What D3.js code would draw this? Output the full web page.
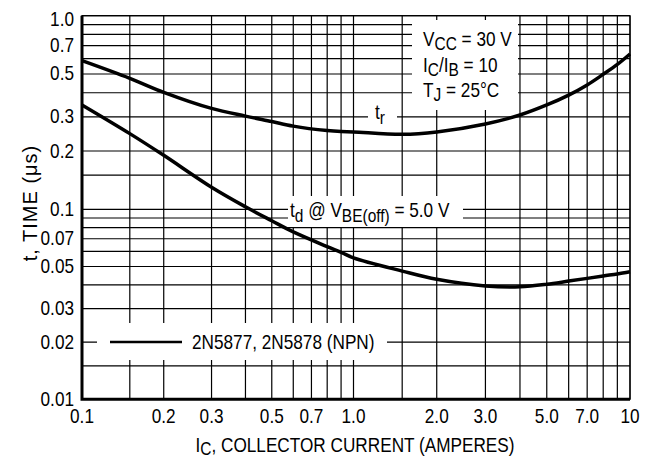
<!DOCTYPE html>
<html>
<head>
<meta charset="utf-8">
<script src="https://cdn.jsdelivr.net/npm/d3@7"></script>
<style>
  body { margin: 0; background: #fff; }
  text { font-family: "Liberation Sans", Arial, sans-serif; font-size: 20px; fill: #000; }
</style>
</head>
<body>
<div class="chart"></div>
<script>
/* collector current (A) where the curves were read */
const icValues = [0.1, 0.15, 0.2, 0.3, 0.4, 0.5, 0.6, 0.8, 0.9, 1.0, 1.5, 2, 3, 4, 5, 6, 7, 8, 9, 10];
/* rise time tr (us) */
const trValues = [0.586, 0.475, 0.402, 0.332, 0.303, 0.284, 0.269, 0.255, 0.252, 0.251, 0.244, 0.251, 0.276, 0.307, 0.346, 0.389, 0.439, 0.498, 0.56, 0.634];
/* delay time td (us) */
const tdValues = [0.346, 0.246, 0.190, 0.130, 0.103, 0.087, 0.076, 0.0636, 0.0594, 0.0555, 0.0473, 0.0428, 0.0395, 0.0391, 0.0403, 0.0419, 0.0433, 0.0446, 0.0457, 0.0469];

/* grid and tick labels */
const xGrid = [0.1, 0.15, 0.2, 0.3, 0.4, 0.5, 0.6, 0.7, 0.8, 0.9, 1, 1.5, 2, 3, 4, 5, 6, 7, 8, 9, 10];
const yGrid = [0.01, 0.015, 0.02, 0.03, 0.04, 0.05, 0.06, 0.07, 0.08, 0.09, 0.1, 0.15, 0.2, 0.3, 0.4, 0.5, 0.6, 0.7, 0.8, 0.9, 1];
const xTicks = [0.1, 0.2, 0.3, 0.5, 0.7, 1, 2, 3, 5, 7, 10];
const xTickLabels = ["0.1", "0.2", "0.3", "0.5", "0.7", "1.0", "2.0", "3.0", "5.0", "7.0", "10"];
const yTicks = [1, 0.7, 0.5, 0.3, 0.2, 0.1, 0.07, 0.05, 0.03, 0.02, 0.01];
const yTickLabels = ["1.0", "0.7", "0.5", "0.3", "0.2", "0.1", "0.07", "0.05", "0.03", "0.02", "0.01"];

const width = 650, height = 458;
const pLeft = 82, pRight = 630, pTop = 15.7, pBottom = 399.3;
const sx = 0.86; // narrow lettering
const subSize = "18px";

const svg = d3.select(".chart").append("svg")
  .attr("width", width)
  .attr("height", height);

/* log scales (one piece per decade) */
const x = d3.scaleLog().domain([0.1, 1, 10]).range([pLeft, 353.5, pRight]);
const y = d3.scaleLog().domain([0.01, 0.1, 1]).range([pBottom, 209.3, pTop]);

/* text helper, condensed horizontally */
function txt(parent, px, py, anchor) {
  return parent.append("text")
    .attr("transform", `translate(${px},${py}) scale(${sx},1)`)
    .attr("text-anchor", anchor);
}
/* main text + subscript pieces: [text, isSub] */
function rich(t, parts, shift) {
  let down = false;
  parts.forEach(([s, sub]) => {
    const ts = t.append("tspan").text(s);
    if (sub && !down) { ts.attr("dy", shift).attr("font-size", subSize); down = true; }
    else if (sub) { ts.attr("font-size", subSize); }
    else if (down) { ts.attr("dy", -shift); down = false; }
  });
  return t;
}

/* grid */
const grid = svg.append("g").attr("stroke", "#000").attr("stroke-width", 1.2);
grid.selectAll("line.v")
  .data(xGrid)
  .join("line")
    .attr("class", "v")
    .attr("x1", d => x(d)).attr("x2", d => x(d))
    .attr("y1", pTop).attr("y2", pBottom);
grid.selectAll("line.h")
  .data(yGrid)
  .join("line")
    .attr("class", "h")
    .attr("x1", pLeft).attr("x2", pRight)
    .attr("y1", d => y(d)).attr("y2", d => y(d));

/* white patches behind the labels */
const boxes = [
  [412, 20, 106, 90],   // conditions
  [368, 104, 29, 22],   // tr
  [288, 196, 175, 31],  // td
  [97, 323, 290, 37]    // legend
];
svg.append("g").selectAll("rect")
  .data(boxes)
  .join("rect")
    .attr("x", d => d[0]).attr("y", d => d[1])
    .attr("width", d => d[2]).attr("height", d => d[3])
    .attr("fill", "#fff");

/* frame */
svg.append("rect")
  .attr("x", pLeft).attr("y", pTop)
  .attr("width", pRight - pLeft).attr("height", pBottom - pTop)
  .attr("fill", "none").attr("stroke", "#000").attr("stroke-width", 1.2);
svg.append("path")
  .attr("d", `M${pLeft},${pTop} V${pBottom} H${pRight}`)
  .attr("fill", "none").attr("stroke", "#000").attr("stroke-width", 3);

/* curves */
const line = d3.line()
  .x(d => x(d[0]))
  .y(d => y(d[1]))
  .curve(d3.curveCatmullRom);

[trValues, tdValues].forEach(vals => {
  svg.append("path")
    .datum(icValues.map((v, i) => [v, vals[i]]))
    .attr("d", line)
    .attr("fill", "none")
    .attr("stroke", "#000")
    .attr("stroke-width", 3.5);
});

/* legend sample */
svg.append("line")
  .attr("x1", 110).attr("x2", 182)
  .attr("y1", y(0.02)).attr("y2", y(0.02))
  .attr("stroke", "#000").attr("stroke-width", 2.5);
txt(svg, 192, 349, "start").text("2N5877, 2N5878 (NPN)");

/* tick labels */
yTicks.forEach((v, i) => {
  txt(svg, 74, y(v) + (v === 1 ? 10 : 6.5), "end").text(yTickLabels[i]);
});
xTicks.forEach((v, i) => {
  txt(svg, x(v), 423, "middle").text(xTickLabels[i]);
});

/* conditions */
rich(txt(svg, 423, 46, "start"), [["V"], ["CC", 1], [" = 30 V"]], 4);
rich(txt(svg, 423, 71.5, "start"), [["I"], ["C", 1], ["/I"], ["B", 1], [" = 10"]], 4);
rich(txt(svg, 423, 97, "start"), [["T"], ["J", 1], [" = 25°C"]], 4);

/* curve labels */
rich(txt(svg, 375, 119, "start"), [["t"], ["r", 1]], 5);
rich(txt(svg, 290, 217, "start"), [["t"], ["d", 1], [" @ V"], ["BE(off)", 1], [" = 5.0 V"]], 5);

/* axis titles */
rich(txt(svg, 355, 452, "middle"), [["I"], ["C", 1], [", COLLECTOR CURRENT (AMPERES)"]], 3);

svg.append("text")
  .attr("transform", "translate(37,203) rotate(-90)")
  .attr("text-anchor", "middle")
  .attr("letter-spacing", 1)
  .text("t, TIME (\u03bcs)");
</script>
</body>
</html>
